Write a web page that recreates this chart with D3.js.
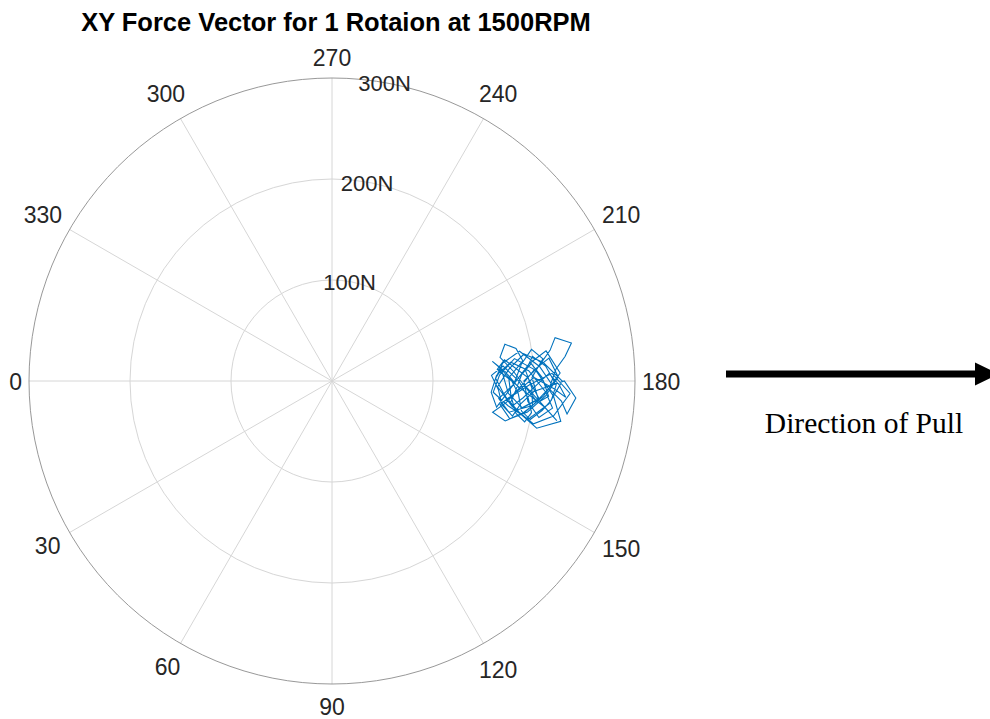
<!doctype html>
<html lang="en">
<head>
    <meta charset="utf-8"/>
    <title>XY Force Vector</title>
    <script src="https://d3js.org/d3.v7.min.js"></script>
    <style>
        body { margin: 0; background: #fff; }
        .sans { font-family: Arial, "Liberation Sans", Helvetica, sans-serif; }
        .serif { font-family: "Liberation Serif", "Times New Roman", serif; }
    </style>
</head>
<body>
<svg id="chart"></svg>

<script>
    let width = 990,
        height = 719;

    // polar grid ticks
    const thetaTicks = [0, 30, 60, 90, 120, 150, 180, 210, 240, 270, 300, 330];
    const rTicks = [100, 200, 300];
    const rTickLabels = ["100N", "200N", "300N"];

    // force samples over one rotation (theta in degrees, magnitude in N)
    const forceTheta = [178, 183, 187, 184, 176, 172, 175, 181, 186, 189, 185, 179, 174, 171, 176, 182,
        186, 183, 177, 173, 170, 174, 180, 184, 188, 191, 189, 186, 183, 178, 175, 172, 176, 180, 177,
        173, 169, 172, 177, 182, 185, 180, 175, 171, 168, 170, 175, 181, 186, 190, 192, 188, 183, 178,
        174, 176, 181, 185, 182, 177, 173, 170, 173, 178, 183, 187, 184, 179, 175, 172, 169, 171, 176,
        180, 184, 181, 176, 172, 175, 179, 182, 179, 176, 178, 181, 178,
        172, 168, 171, 176, 181, 186, 183, 178, 173, 169, 167, 171, 176, 182, 188, 185, 179, 174, 170,
        173, 179, 184, 189, 186, 181, 175, 170, 167, 170, 176, 183, 187, 182, 176, 172, 169, 174, 180,
        185, 188, 184, 178, 172, 168, 171, 177, 182, 179, 174, 171, 175, 181, 187, 184, 178, 173, 170,
        174, 179, 176];
    const forceRho = [185, 172, 160, 168, 175, 190, 205, 198, 210, 200, 188, 180, 170, 165, 158, 163,
        178, 195, 212, 220, 208, 195, 190, 205, 218, 225, 240, 232, 222, 215, 228, 235, 242, 230, 200,
        188, 182, 170, 165, 158, 170, 185, 195, 200, 195, 185, 178, 175, 190, 185, 175, 168, 180, 192,
        205, 215, 208, 198, 188, 182, 178, 190, 200, 198, 192, 200, 212, 222, 218, 210, 200, 190, 185,
        178, 168, 162, 170, 180, 190, 203, 215, 225, 232, 220, 200, 188,
        168, 180, 196, 212, 224, 216, 200, 186, 174, 162, 176, 194, 210, 226, 214, 196, 180, 166, 178,
        200, 218, 206, 188, 170, 162, 172, 190, 208, 230, 220, 202, 182, 166, 160, 176, 198, 216, 228,
        210, 192, 176, 164, 180, 204, 222, 236, 218, 196, 174, 186, 206, 194, 172, 164, 186, 212, 226,
        208, 190, 198];

    const svg = d3.select("#chart")
        .attr("width", width)
        .attr("height", height);

    const cx = 332, cy = 381, R = 303;

    const r = d3.scaleLinear().domain([0, 300]).range([0, R]);

    // theta zero on the left, counterclockwise
    function px(theta, rho) {
        const a = theta * Math.PI / 180;
        return [cx - r(rho) * Math.cos(a), cy + r(rho) * Math.sin(a)];
    }

    const g = svg.append("g");

    // rings
    g.selectAll("circle.ring")
        .data(rTicks.slice(0, -1))
        .enter()
        .append("circle")
        .attr("cx", cx)
        .attr("cy", cy)
        .attr("r", d => r(d))
        .attr("fill", "none")
        .attr("stroke", "#d6d6d6")
        .attr("stroke-width", 1);

    // spokes
    g.selectAll("line.spoke")
        .data(thetaTicks)
        .enter()
        .append("line")
        .attr("x1", cx)
        .attr("y1", cy)
        .attr("x2", d => px(d, 300)[0])
        .attr("y2", d => px(d, 300)[1])
        .attr("stroke", "#d6d6d6")
        .attr("stroke-width", 1);

    // outer circle
    g.append("circle")
        .attr("cx", cx)
        .attr("cy", cy)
        .attr("r", r(300))
        .attr("fill", "none")
        .attr("stroke", "#8c8c8c")
        .attr("stroke-width", 0.9);

    // data line
    const pts = forceTheta.map((t, i) => px(t, forceRho[i]));
    g.append("path")
        .attr("d", d3.line()(pts))
        .attr("fill", "none")
        .attr("stroke", "#0072BD")
        .attr("stroke-width", 1.1)
        .attr("stroke-linejoin", "miter");

    // theta labels
    g.selectAll("text.theta")
        .data(thetaTicks)
        .enter()
        .append("text")
        .attr("class", "sans")
        .attr("font-size", 23)
        .attr("fill", "#262626")
        .attr("text-anchor", "middle")
        .attr("dominant-baseline", "central")
        .text(d => d)
        .each(function (d) {
            const w = this.getComputedTextLength();
            const a = d * Math.PI / 180;
            const c = Math.abs(Math.cos(a)), s = Math.abs(Math.sin(a));
            const L = R + 7 + 7 * s + (w / 2) * c + 7.5 * s;
            d3.select(this)
                .attr("x", cx - L * Math.cos(a))
                .attr("y", cy + L * Math.sin(a) + 1);
        });

    // r labels
    g.selectAll("text.rlab")
        .data(rTicks)
        .enter()
        .append("text")
        .attr("class", "sans")
        .attr("font-size", 22)
        .attr("fill", "#262626")
        .attr("text-anchor", "middle")
        .attr("dominant-baseline", "central")
        .attr("x", d => px(260, d)[0])
        .attr("y", d => px(260, d)[1] + 1)
        .text((d, i) => rTickLabels[i]);

    // title
    svg.append("text")
        .attr("class", "sans")
        .attr("x", 336)
        .attr("y", 31)
        .attr("text-anchor", "middle")
        .attr("font-size", 25.5)
        .attr("font-weight", "bold")
        .attr("fill", "#000")
        .text("XY Force Vector for 1 Rotaion at 1500RPM");

    // direction arrow
    svg.append("line")
        .attr("x1", 726)
        .attr("y1", 374)
        .attr("x2", 978)
        .attr("y2", 374)
        .attr("stroke", "#000")
        .attr("stroke-width", 7);

    svg.append("polygon")
        .attr("points", "975,362.5 999,374 975,385.5")
        .attr("fill", "#000");

    svg.append("text")
        .attr("class", "serif")
        .attr("x", 864)
        .attr("y", 433)
        .attr("text-anchor", "middle")
        .attr("font-size", 29.5)
        .attr("fill", "#000")
        .text("Direction of Pull");
</script>
</body>
</html>
